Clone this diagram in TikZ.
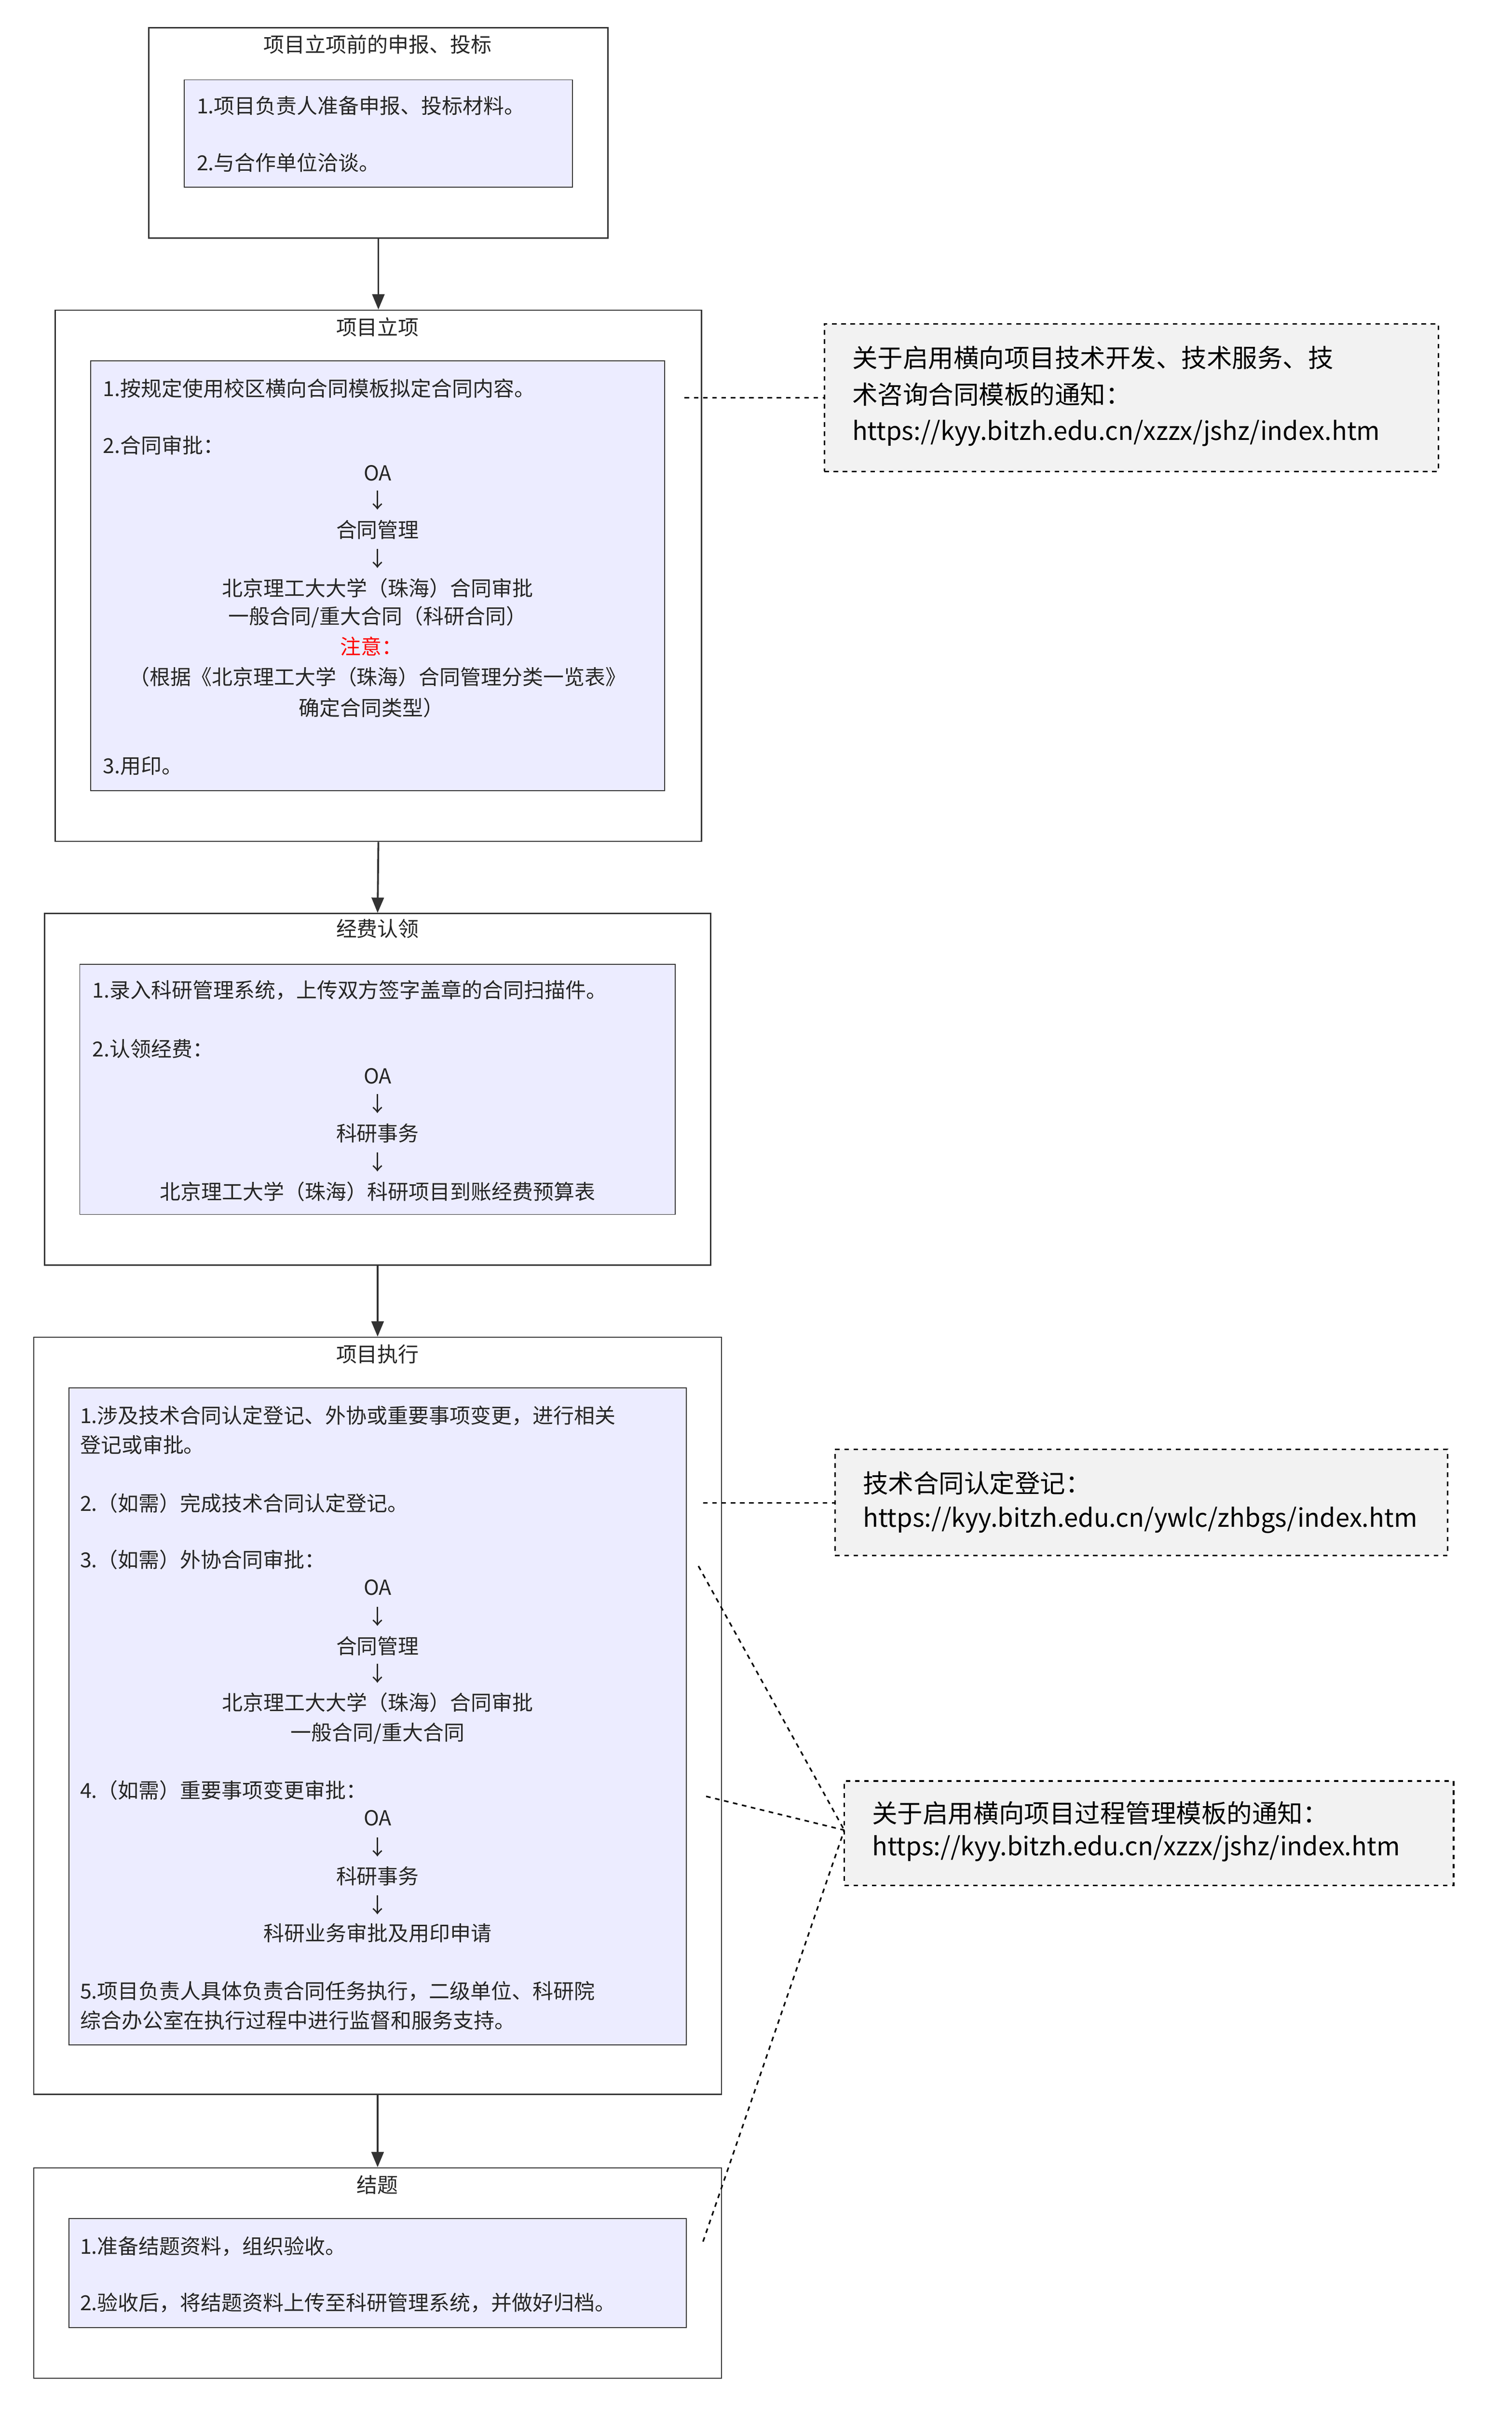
\documentclass[tikz,border=0pt]{standalone}
\usepackage{fontspec}
\setmainfont{Noto Sans CJK SC}
\usetikzlibrary{arrows.meta}
\definecolor{inner}{HTML}{ECECFF}
\definecolor{dk}{HTML}{333333}
\definecolor{notef}{HTML}{F2F2F2}
\begin{document}
\begin{tikzpicture}[x=1pt,y=-1pt,
  outer/.style={draw=dk,line width=0.8pt,fill=white,inner sep=0,minimum width=#1},
  inr/.style={draw=dk,line width=0.6pt,fill=inner,inner sep=0},
  note/.style={draw=black,dashed,line width=1pt,fill=notef,inner sep=0},
  txt/.style={inner sep=0,font=\fontsize{13.5}{16}\selectfont,text=black!85},
  ntxt/.style={inner sep=0,font=\fontsize{16.5}{20}\selectfont,anchor=west},
  arr/.style={-{Triangle[length=10pt,width=8pt]},draw=dk,line width=1.2pt},
  dsh/.style={dashed,draw=black,line width=1pt}]
\useasboundingbox (0,0) rectangle (985,1571);
\fill[white] (0,0) rectangle (985,1571);
\newcommand\bx[6]{\node[#1,minimum width=#4-#3,minimum height=#6-#5] (#2) at ({(#3+#4)/2},{(#5+#6)/2}) {};}
% box 1
\bx{outer}{o1}{97}{396}{18}{155}
\bx{inr}{i1}{120}{373}{52}{122}
\node[txt] (h1) at (246,29) {项目立项前的申报、投标};
\node[txt,anchor=west] (a1) at (128,69) {1.项目负责人准备申报、投标材料。};
\node[txt,anchor=west] (a2) at (128,106) {2.与合作单位洽谈。};
% box 2
\bx{outer}{o2}{36}{457}{202}{548}
\bx{inr}{i2}{59}{433}{235}{515}
\node[txt] (h2) at (246,213) {项目立项};
\node[txt,anchor=west] (b1) at (67,253) {1.按规定使用校区横向合同模板拟定合同内容。};
\node[txt,anchor=west] (b2) at (67,290) {2.合同审批：};
\node[txt] (b3) at (246,308) {OA};
\node[txt] (b4) at (246,326) {↓};
\node[txt] (b5) at (246,345) {合同管理};
\node[txt] (b6) at (246,364) {↓};
\node[txt] (b7) at (246,383) {北京理工大大学（珠海）合同审批};
\node[txt] (b8) at (246,402) {一般合同/重大合同（科研合同）};
\node[txt,text=red] (b9) at (242,421) {注意：};
\node[txt] (b10) at (246,441) {（根据《北京理工大学（珠海）合同管理分类一览表》};
\node[txt] (b11) at (242,461) {确定合同类型）};
\node[txt,anchor=west] (b12) at (67,499) {3.用印。};
% box 3
\bx{outer}{o3}{29}{463}{595}{824}
\bx{inr}{i3}{52}{440}{628}{791}
\node[txt] (h3) at (246,605) {经费认领};
\node[txt,anchor=west] (c1) at (60,645) {1.录入科研管理系统，上传双方签字盖章的合同扫描件。};
\node[txt,anchor=west] (c2) at (60,683) {2.认领经费：};
\node[txt] (c3) at (246,701) {OA};
\node[txt] (c4) at (246,719) {↓};
\node[txt] (c5) at (246,738) {科研事务};
\node[txt] (c6) at (246,757) {↓};
\node[txt] (c7) at (246,776) {北京理工大学（珠海）科研项目到账经费预算表};
% box 4
\bx{outer}{o4}{22}{470}{871}{1364}
\bx{inr}{i4}{45}{447}{904}{1332}
\node[txt] (h4) at (246,882) {项目执行};
\node[txt,anchor=west] (d1) at (52,922) {1.涉及技术合同认定登记、外协或重要事项变更，进行相关};
\node[txt,anchor=west] (d2) at (52,941) {登记或审批。};
\node[txt,anchor=west] (d3) at (52,979) {2.（如需）完成技术合同认定登记。};
\node[txt,anchor=west] (d4) at (52,1016) {3.（如需）外协合同审批：};
\node[txt] (d5) at (246,1034) {OA};
\node[txt] (d6) at (246,1053) {↓};
\node[txt] (d7) at (246,1072) {合同管理};
\node[txt] (d8) at (246,1090) {↓};
\node[txt] (d9) at (246,1109) {北京理工大大学（珠海）合同审批};
\node[txt] (d10) at (246,1129) {一般合同/重大合同};
\node[txt,anchor=west] (d11) at (52,1166) {4.（如需）重要事项变更审批：};
\node[txt] (d12) at (246,1184) {OA};
\node[txt] (d13) at (246,1203) {↓};
\node[txt] (d14) at (246,1222) {科研事务};
\node[txt] (d15) at (246,1241) {↓};
\node[txt] (d16) at (246,1259) {科研业务审批及用印申请};
\node[txt,anchor=west] (d17) at (52,1297) {5.项目负责人具体负责合同任务执行，二级单位、科研院};
\node[txt,anchor=west] (d18) at (52,1316) {综合办公室在执行过程中进行监督和服务支持。};
% box 5
\bx{outer}{o5}{22}{470}{1412}{1549}
\bx{inr}{i5}{45}{447}{1445}{1516}
\node[txt] (h5) at (246,1423) {结题};
\node[txt,anchor=west] (e1) at (52,1463) {1.准备结题资料，组织验收。};
\node[txt,anchor=west] (e2) at (52,1500) {2.验收后，将结题资料上传至科研管理系统，并做好归档。};
% notes
\bx{note}{n1}{537}{937}{211}{307}
\node[ntxt] (n1a) at (555,233) {关于启用横向项目技术开发、技术服务、技};
\node[ntxt] (n1b) at (555,257) {术咨询合同模板的通知：};
\node[ntxt] (n1c) at (555,282) {https://kyy.bitzh.edu.cn/xzzx/jshz/index.htm};
\bx{note}{n2}{544}{943}{944}{1013}
\node[ntxt] (n2a) at (562,966) {技术合同认定登记：};
\node[ntxt] (n2b) at (562,990) {https://kyy.bitzh.edu.cn/ywlc/zhbgs/index.htm};
\bx{note}{n3}{550}{947}{1160}{1228}
\node[ntxt] (n3a) at (568,1181) {关于启用横向项目过程管理模板的通知：};
\node[ntxt] (n3b) at (568,1204) {https://kyy.bitzh.edu.cn/xzzx/jshz/index.htm};
% arrows
\draw[arr] (o1.south) -- (o2.north);
\draw[arr] (o2.south) -- (o3.north);
\draw[arr] (o3.south) -- (o4.north);
\draw[arr] (o4.south) -- (o5.north);
% dashed links
\coordinate (p1) at (446,259);
\coordinate (p2) at (458,979);
\coordinate (p3) at (455,1020);
\coordinate (p4) at (460,1170);
\coordinate (p5) at (458,1460);
\coordinate (q3) at (550,1192);
\draw[dsh] (p1) -- (n1.west |- p1);
\draw[dsh] (p2) -- (n2.west |- p2);
\draw[dsh] (p3) -- (q3);
\draw[dsh] (p4) -- (q3);
\draw[dsh] (p5) -- (q3);
\end{tikzpicture}
\end{document}
